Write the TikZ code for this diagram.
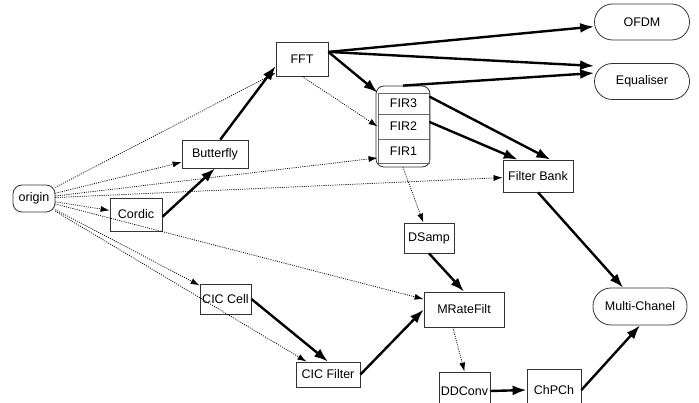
\documentclass[tikz,border=0pt]{standalone}
\usepackage{fontspec}
\setmainfont{Liberation Sans}
\usetikzlibrary{arrows.meta}

\begin{document}
\begin{tikzpicture}[x=1pt,y=-1pt,
  font=\fontsize{12.5}{14}\selectfont,
  block/.style={draw=black!80, line width=0.8pt, inner sep=1pt},
  term/.style={block, rounded corners=18pt, minimum height=36pt},
  firrow/.style={draw=black!60, line width=0.8pt, minimum width=51pt, inner sep=0pt},
  heavy/.style={draw, line width=2.4pt, -{Latex[length=14pt,width=10pt]}},
  weak/.style={draw, black, line width=0.75pt, dash pattern=on 1pt off 1.2pt, -{Latex[length=9pt,width=6pt]}}]
\clip (0,0) rectangle (699,403);

\node[block, rounded corners=9pt, minimum width=42pt, minimum height=27pt] (origin) at (34,198.5) {origin};
\node[block, minimum width=52pt, minimum height=34pt] (FFT) at (302,59) {FFT};
\node[block, minimum width=66pt, minimum height=28pt] (Butterfly) at (215,154) {Butterfly};
\node[block, minimum width=52pt, minimum height=33pt] (Cordic) at (136,214.5) {Cordic};

\node[block, rounded corners=8pt, minimum width=54pt, minimum height=81pt] (FIR) at (403,126.5) {};
\node[firrow, minimum height=21pt] (FIR3) at (403.5,103.5) {FIR3};
\node[firrow, minimum height=25pt] (FIR2) at (403.5,126.5) {FIR2};
\node[firrow, minimum height=24pt] (FIR1) at (403.5,151) {FIR1};

\node[term, minimum width=95pt] (OFDM) at (642,22) {OFDM};
\node[term, minimum width=95pt] (Equaliser) at (642,81.5) {Equaliser};
\node[block, minimum width=70pt, minimum height=32pt] (FilterBank) at (538,176) {Filter Bank};
\node[block, minimum width=50pt, minimum height=30pt] (DSamp) at (429,238) {DSamp};
\node[block, minimum width=80pt, minimum height=35pt] (MRateFilt) at (464,309.5) {MRateFilt};
\node[term, minimum width=94pt, minimum height=37pt] (MultiChanel) at (640,306.5) {Multi-Chanel};
\node[block, minimum width=51pt, minimum height=38pt] (DDConv) at (464.5,391) {DDConv};
\node[block, minimum width=54pt, minimum height=42pt] (ChPCh) at (554,390) {ChPCh};
\node[block, minimum width=51pt, minimum height=30pt] (CICCell) at (225.5,299) {CIC Cell};
\node[block, minimum width=64pt, minimum height=25pt] (CICFilter) at (328,374.5) {CIC Filter};

% dotted links
\path (origin) edge[weak] (FFT) edge[weak] (Butterfly) edge[weak] (Cordic)
  edge[weak] (FIR1.195) edge[weak] (FilterBank) edge[weak] (MRateFilt)
  edge[weak] (CICCell) edge[weak] (CICFilter);
\path (FFT.south) edge[weak] (FIR2.west);
\path (FIR.south) edge[weak] (DSamp);
\path (MRateFilt.238) edge[weak] (DDConv.north);

% heavy links
\path (FFT.15) edge[heavy] (OFDM);
\path (FFT.15) edge[heavy] (Equaliser.162);
\path (FFT.15) edge[heavy] (FIR3.north west);
\path (FIR.north) edge[heavy] (Equaliser.170);
\path (FIR3.15) edge[heavy] (FilterBank.53);
\path (FIR2.10) edge[heavy] (FilterBank.141);
\path (Butterfly.70) edge[heavy] (FFT.195);
\path (Cordic.-5) edge[heavy] (Butterfly.south);
\path (FilterBank.south) edge[heavy] (MultiChanel);
\path (DSamp.south) edge[heavy] (MRateFilt.north);
\path (CICCell.east) edge[heavy] (CICFilter.north);
\path (CICFilter.east) edge[heavy] (MRateFilt.west);
\path (DDConv.east) edge[heavy] (ChPCh.west);
\path (ChPCh.east) edge[heavy] (MultiChanel.south);
\end{tikzpicture}
\end{document}
